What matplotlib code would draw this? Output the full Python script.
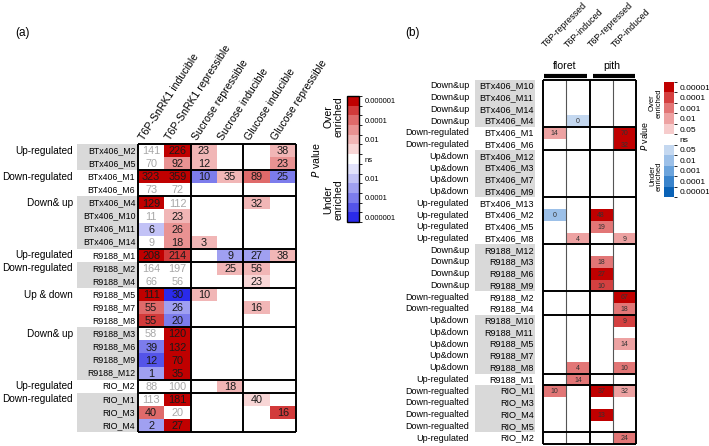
import numpy as np
import matplotlib
matplotlib.use('Agg')
import matplotlib.pyplot as plt
from matplotlib.colors import ListedColormap, BoundaryNorm
from matplotlib.cm import ScalarMappable
from matplotlib.patches import Rectangle

plt.rcParams['font.family'] = ['Liberation Sans', 'DejaVu Sans']

n = np.nan

# ---- panel (a) data ----
a_cols = ['T6P-SnRK1 inducible', 'T6P-SnRK1 repressible', 'Sucrose repressible',
          'Sucrose inducible', 'Glucose inducible', 'Glucose repressible']
a_rows = ['BTx406_M2', 'BTx406_M5', 'BTx406_M1', 'BTx406_M6', 'BTx406_M4', 'BTx406_M10',
          'BTx406_M11', 'BTx406_M14', 'R9188_M1', 'R9188_M2', 'R9188_M4', 'R9188_M5',
          'R9188_M7', 'R9188_M8', 'R9188_M3', 'R9188_M6', 'R9188_M9', 'R9188_M12',
          'RIO_M2', 'RIO_M1', 'RIO_M3', 'RIO_M4']
a_groups = ['Up-regulated', 'Down-regulated', 'Down& up', 'Up-regulated', 'Down-regulated',
            'Up & down', 'Down& up', 'Up-regulated', 'Down-regulated']
a_group_sizes = [2, 2, 4, 1, 2, 3, 4, 1, 3]
a_counts = np.array([
    [141, 226, 23, n, n, 38],
    [70, 92, 12, n, n, 23],
    [323, 359, 10, 35, 89, 25],
    [73, 72, n, n, n, n],
    [129, 112, n, n, 32, n],
    [11, 23, n, n, n, n],
    [6, 26, n, n, n, n],
    [9, 18, 3, n, n, n],
    [208, 214, n, 9, 27, 38],
    [164, 197, n, 25, 56, n],
    [66, 56, n, n, 23, n],
    [111, 30, 10, n, n, n],
    [55, 26, n, n, 16, n],
    [55, 20, n, n, n, n],
    [58, 120, n, n, n, n],
    [39, 132, n, n, n, n],
    [12, 70, n, n, n, n],
    [1, 35, n, n, n, n],
    [88, 100, n, 18, n, n],
    [113, 181, n, n, 40, n],
    [40, 20, n, n, n, 16],
    [2, 27, n, n, n, n]])
# enrichment class: >0 over enriched, <0 under enriched, 0 = ns
a_levels = np.array([
    [0, 6, 2, n, n, 2],
    [0, 3, 2, n, n, 3],
    [6, 6, -4, 2, 4, -4],
    [0, 0, n, n, n, n],
    [6, 0, n, n, 2, n],
    [0, 2, n, n, n, n],
    [-2, 3, n, n, n, n],
    [0, 3, 2, n, n, n],
    [6, 5, n, -3, -3, 2],
    [0, 0, n, 2, 2, n],
    [0, 0, n, n, 1, n],
    [6, -6, 2, n, n, n],
    [4, -3, n, n, 2, n],
    [5, -4, n, n, n, n],
    [0, 6, n, n, n, n],
    [-4, 6, n, n, n, n],
    [-5, 6, n, n, n, n],
    [-3, 6, n, n, n, n],
    [0, 0, n, 2, n, n],
    [0, 6, n, n, 1, n],
    [4, 0, n, n, n, 5],
    [-3, 6, n, n, n, n]])
a_cbar_labels = ['0.000001', '0.0001', '0.01', 'ns', '0.01', '0.0001', '0.000001']

# ---- panel (b) data ----
b_cols = ['T6P-repressed', 'T6P-induced', 'T6P-repressed', 'T6P-induced']
b_tissues = ['floret', 'pith']
b_rows = ['BTx406_M10', 'BTx406_M11', 'BTx406_M14', 'BTx406_M4', 'BTx406_M1', 'BTx406_M6',
          'BTx406_M12', 'BTx406_M3', 'BTx406_M7', 'BTx406_M9', 'BTx406_M13', 'BTx406_M2',
          'BTx406_M5', 'BTx406_M8', 'R9188_M12', 'R9188_M3', 'R9188_M6', 'R9188_M9',
          'R9188_M2', 'R9188_M4', 'R9188_M10', 'R9188_M11', 'R9188_M5', 'R9188_M7', 'R9188_M8',
          'R9188_M1', 'RIO_M1', 'RIO_M3', 'RIO_M4', 'RIO_M5', 'RIO_M2']
b_groups = ['Down&up', 'Down-regulated', 'Up&down', 'Up-regulated', 'Down&up',
            'Down-regualted', 'Up&down', 'Up-regulated', 'Down-regualted', 'Up-regulated']
b_group_sizes = [4, 2, 4, 4, 4, 2, 5, 1, 4, 1]
b_counts = np.array([
    [n, n, n, n], [n, n, n, n], [n, n, n, n], [n, 0, n, n],
    [14, n, n, 70], [n, n, n, 32],
    [n, n, n, n], [n, n, n, n], [n, n, n, n], [n, n, n, n],
    [n, n, n, n], [0, n, 48, n], [n, n, 19, n], [n, 4, n, 9],
    [n, n, n, n], [n, n, 18, n], [n, n, 27, n], [n, n, 10, n],
    [n, n, n, 67], [n, n, n, 18],
    [n, n, n, 9], [n, n, n, n], [n, n, n, 14], [n, n, n, n], [n, 4, n, 10],
    [n, 14, n, n],
    [10, n, 37, 32], [n, n, n, n], [n, n, 13, n], [n, n, n, n],
    [n, n, n, 24]])
b_levels = np.array([
    [n, n, n, n], [n, n, n, n], [n, n, n, n], [n, -1, n, n],
    [2, n, n, 5], [n, n, n, 5],
    [n, n, n, n], [n, n, n, n], [n, n, n, n], [n, n, n, n],
    [n, n, n, n], [-2, n, 5, n], [n, n, 3, n], [n, 2, n, 2],
    [n, n, n, n], [n, n, 3, n], [n, n, 5, n], [n, n, 4, n],
    [n, n, n, 5], [n, n, n, 3],
    [n, n, n, 4], [n, n, n, n], [n, n, n, 2], [n, n, n, n], [n, 3, n, 3],
    [n, 3, n, n],
    [3, n, 5, 2], [n, n, n, n], [n, n, 5, n], [n, n, n, n],
    [n, n, n, 3]])
b_cbar_labels = ['0.00001', '0.0001', '0.001', '0.01', '0.05', 'ns',
                 '0.05', '0.01', '0.001', '0.0001', '0.00001']

# colour scales
a_reds = ['#f8d6d6', '#f1b6b6', '#e99292', '#df6a6a', '#d23a3a', '#c00000']
a_blues = ['#e2e2fb', '#c2c2f6', '#a0a0f1', '#7c7cec', '#5454e8', '#2a2aea']
cmap_a = ListedColormap(a_blues[::-1] + ['#ffffff'] + a_reds)
norm_a = BoundaryNorm(np.arange(-6.5, 7.5, 1), cmap_a.N)

b_reds = ['#f6cccc', '#eda2a2', '#e27676', '#d44040', '#c00000']
b_blues = ['#c4d8f0', '#9cc0e8', '#6ca4dc', '#3a84cc', '#0a62b6']
cmap_b = ListedColormap(b_blues[::-1] + ['#ffffff'] + b_reds)
norm_b = BoundaryNorm(np.arange(-5.5, 6.5, 1), cmap_b.N)

fig = plt.figure(figsize=(7.09, 4.46), dpi=100)
W, H = 709.0, 446.0

def group_starts(sizes):
    return np.concatenate([[0], np.cumsum(sizes)])

# ================= panel (a) =================
ax = fig.add_axes([138 / W, 1 - 432 / H, 158 / W, 288 / H])
nr, nc = a_levels.shape
ax.pcolormesh(np.arange(nc + 1), np.arange(nr + 1), np.ma.masked_invalid(a_levels),
              cmap=cmap_a, norm=norm_a)
ax.set_xlim(0, nc)
ax.set_ylim(nr, 0)
ax.axis('off')
for i in range(nr):
    for j in range(nc):
        if not np.isnan(a_counts[i, j]):
            c = '#a8a8a8' if a_levels[i, j] == 0 else '#1a1a1a'
            ax.text(j + 0.5, i + 0.55, '%d' % a_counts[i, j], ha='center', va='center',
                    fontsize=7.8, color=c)

starts = group_starts(a_group_sizes)
for g, lab in enumerate(a_groups):
    s, e = starts[g], starts[g + 1]
    if g % 2 == 0:
        ax.add_patch(Rectangle((-2.32, s), 2.28, e - s, color='#d9d9d9', lw=0, clip_on=False))
    ax.text(-2.47, s + 0.5, lab, ha='right', va='center', fontsize=7.2)
for i, r in enumerate(a_rows):
    ax.text(-0.1, i + 0.5, r, ha='right', va='center', fontsize=6.3)
ax.hlines(starts, 0, nc, color='k', lw=1.4, clip_on=False)
ax.vlines([0, 2, 4, 6], 0, nr, color='k', lw=1.4, clip_on=False)
for j, col in enumerate(a_cols):
    ax.text(j + 0.3, -0.15, col, rotation=57, rotation_mode='anchor', ha='left',
            va='bottom', fontsize=7.6)

cax = fig.add_axes([347 / W, 1 - 222 / H, 12 / W, 126 / H])
cb = fig.colorbar(ScalarMappable(norm=norm_a, cmap=cmap_a), cax=cax,
                  ticks=[6, 4, 2, 0, -2, -4, -6])
cb.set_ticklabels(a_cbar_labels)
cb.ax.tick_params(length=0, labelsize=5.5, pad=4)
cb.outline.set_linewidth(1.0)
fig.text(333 / W, 1 - 117 / H, 'Over\nenriched', rotation=90, ha='center', va='center',
         fontsize=7.6, linespacing=1.0)
fig.text(316 / W, 1 - 160 / H, r'$\it{P}$ value', rotation=90, ha='center', va='center',
         fontsize=7.6)
fig.text(333 / W, 1 - 200 / H, 'Under\nenriched', rotation=90, ha='center', va='center',
         fontsize=7.6, linespacing=1.0)
fig.text(22 / W, 1 - 33 / H, '(a)', ha='center', va='center', fontsize=8.5)

# ================= panel (b) =================
bx = fig.add_axes([543 / W, 1 - 444 / H, 93 / W, 364 / H])
nr, nc = b_levels.shape
bx.pcolormesh(np.arange(nc + 1), np.arange(nr + 1), np.ma.masked_invalid(b_levels),
              cmap=cmap_b, norm=norm_b)
bx.set_xlim(0, nc)
bx.set_ylim(nr, 0)
bx.axis('off')
for i in range(nr):
    for j in range(nc):
        if not np.isnan(b_counts[i, j]):
            bx.text(j + 0.5, i + 0.55, '%d' % b_counts[i, j], ha='center', va='center',
                    fontsize=5, color='#333333')

starts = group_starts(b_group_sizes)
for g, lab in enumerate(b_groups):
    s, e = starts[g], starts[g + 1]
    if g % 2 == 0:
        bx.add_patch(Rectangle((-2.92, s), 2.58, e - s, color='#d9d9d9', lw=0, clip_on=False))
    for i in range(s, e):
        bx.text(-3.18, i + 0.5, lab, ha='right', va='center', fontsize=6.5)
for i, r in enumerate(b_rows):
    bx.text(-0.4, i + 0.5, r, ha='right', va='center', fontsize=6.6)
bx.vlines([1, 3], 0, nr, color='#555555', lw=0.8)
bx.hlines(starts, 0, nc, color='k', lw=1.4, clip_on=False)
bx.vlines([0, 2, 4], 0, nr, color='k', lw=1.4, clip_on=False)
for j, col in enumerate(b_cols):
    bx.text(j + 0.15, -2.6, col, rotation=45, rotation_mode='anchor', ha='left',
            va='bottom', fontsize=6.4)
for t, tis in enumerate(b_tissues):
    bx.text(2 * t + 0.95, -1.2, tis, ha='center', va='center', fontsize=7.6)
    bx.plot([2 * t + 0.05 + 0.1 * t, 2 * t + 1.9 + 0.05 * t], [-0.35, -0.35], color='k',
            lw=3, solid_capstyle='butt', clip_on=False)

cbx = fig.add_axes([664 / W, 1 - 197 / H, 10 / W, 115 / H])
cb2 = fig.colorbar(ScalarMappable(norm=norm_b, cmap=cmap_b), cax=cbx,
                   ticks=list(range(5, -6, -1)))
cb2.set_ticklabels(b_cbar_labels)
cb2.ax.tick_params(length=0, labelsize=6, pad=4)
cb2.outline.set_visible(False)
fig.text(656 / W, 1 - 103 / H, 'Over\nenriched', rotation=90, ha='center', va='center',
         fontsize=5.5, linespacing=1.0)
fig.text(645 / W, 1 - 136 / H, r'$\it{P}$ value', rotation=90, ha='center', va='center',
         fontsize=6.3)
fig.text(656 / W, 1 - 176 / H, 'Under\nenriched', rotation=90, ha='center', va='center',
         fontsize=5.5, linespacing=1.0)
fig.text(413 / W, 1 - 33 / H, '(b)', ha='center', va='center', fontsize=8.5)

fig.savefig('out.png', dpi=100)
